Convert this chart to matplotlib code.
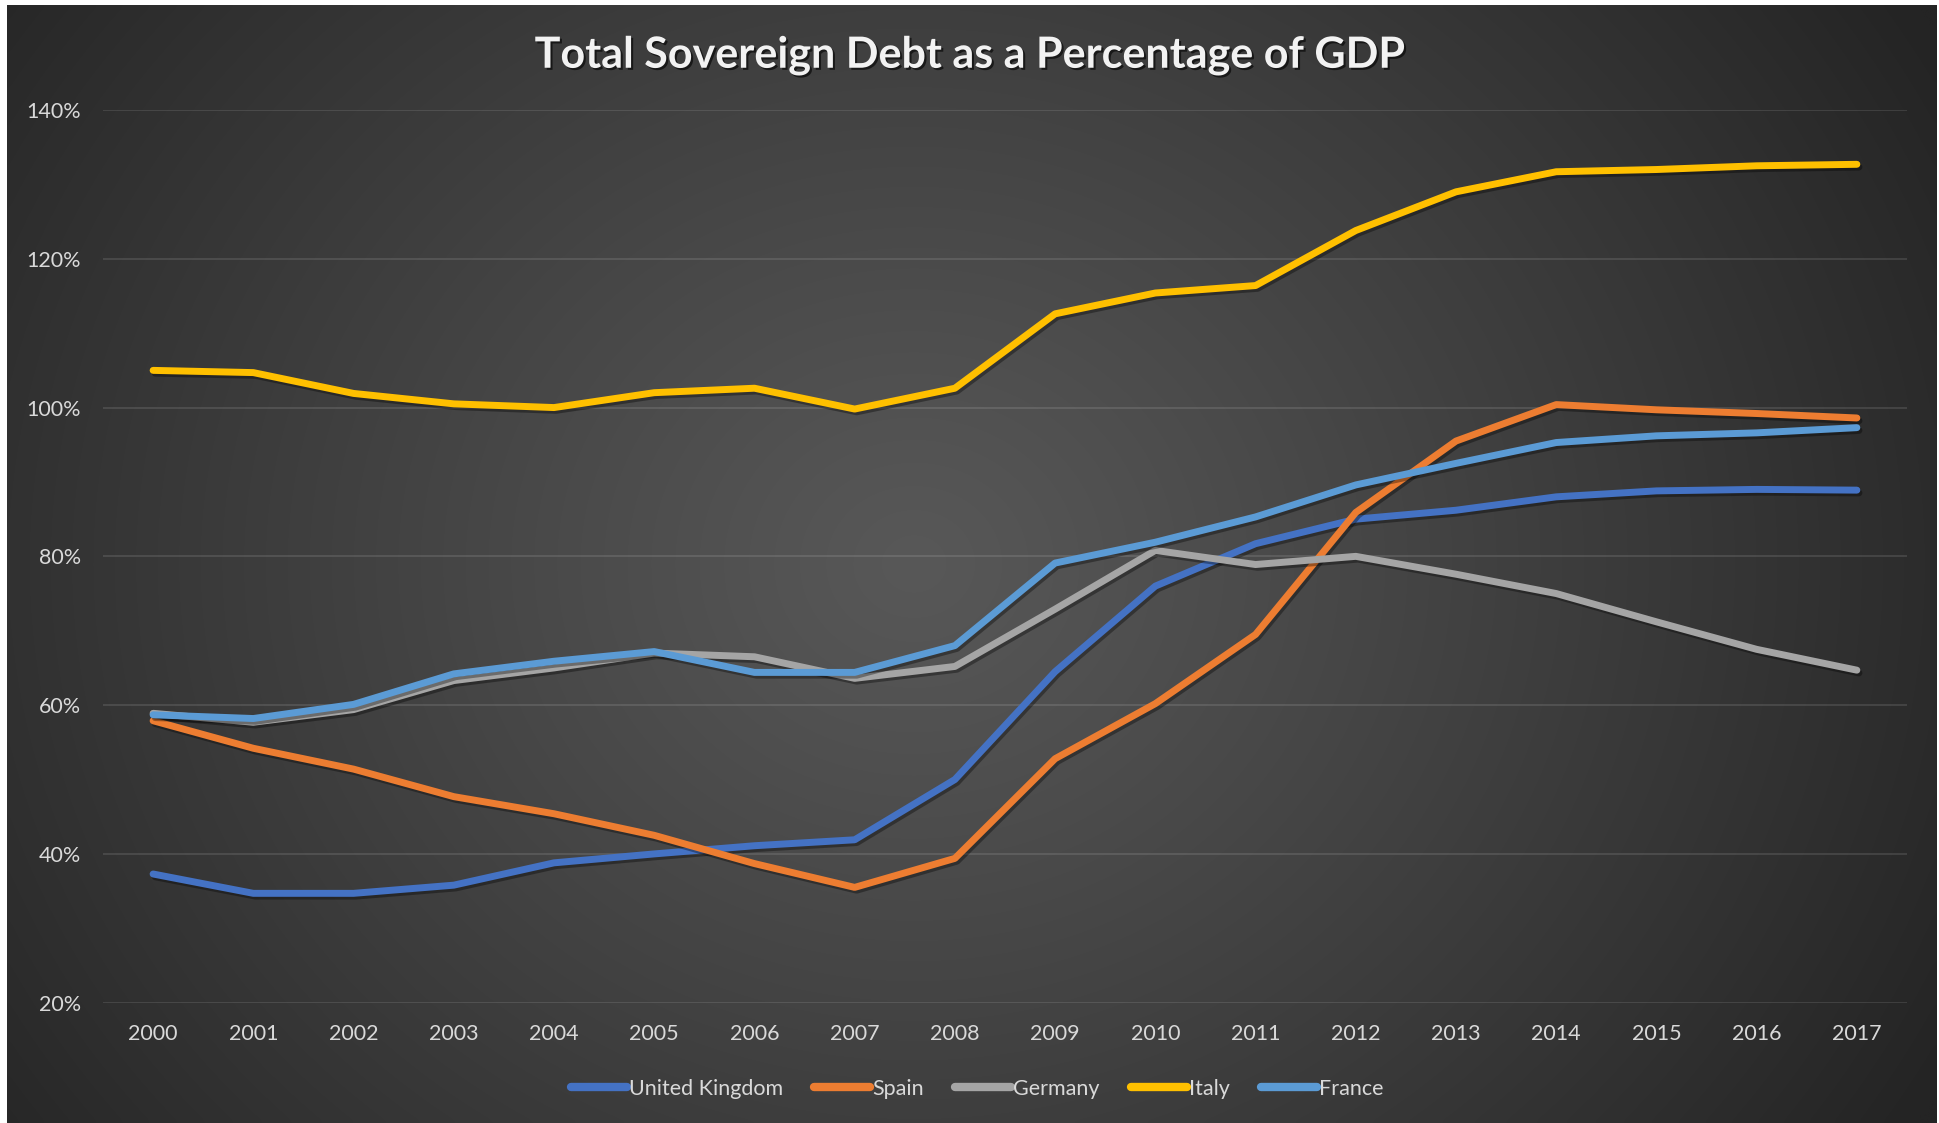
import numpy as np
import matplotlib
matplotlib.use("Agg")
import matplotlib.pyplot as plt
import matplotlib.patheffects as pe
from matplotlib.ticker import FuncFormatter

# ---- data -------------------------------------------------------------
years = list(range(2000, 2018))

uk = [37.3, 34.7, 34.7, 35.8, 38.8, 40.0, 41.1, 41.9, 50.0, 64.5,
      76.0, 81.7, 85.0, 86.2, 88.0, 88.8, 89.0, 88.9]
spain = [57.9, 54.2, 51.4, 47.7, 45.4, 42.5, 38.7, 35.5, 39.4, 52.8,
         60.2, 69.5, 85.9, 95.5, 100.4, 99.7, 99.2, 98.6]
germany = [58.9, 57.7, 59.4, 63.3, 65.0, 67.0, 66.5, 63.6, 65.2, 72.9,
           80.8, 78.9, 80.0, 77.6, 75.0, 71.2, 67.5, 64.7]
italy = [105.0, 104.7, 101.9, 100.5, 100.0, 102.0, 102.6, 99.8, 102.6, 112.6,
         115.4, 116.4, 123.8, 129.0, 131.7, 132.0, 132.5, 132.7]
france = [58.7, 58.2, 60.1, 64.2, 65.9, 67.2, 64.4, 64.4, 68.0, 79.1,
          81.9, 85.3, 89.6, 92.5, 95.3, 96.2, 96.6, 97.3]

series_names = ["United Kingdom", "Spain", "Germany", "Italy", "France"]
series_values = [uk, spain, germany, italy, france]
series_colors = ["#4472C4", "#ED7D31", "#A5A5A5", "#FFC000", "#5B9BD5"]

y_ticks = [20, 40, 60, 80, 100, 120, 140]
title = "Total Sovereign Debt as a Percentage of GDP"

# ---- figure -----------------------------------------------------------
W, H, DPI = 1939, 1123, 100
fig = plt.figure(figsize=(W / DPI, H / DPI), dpi=DPI, facecolor="white")
plt.rcParams["font.family"] = ["Lato", "DejaVu Sans"]

# dark radial-gradient backdrop
bg = fig.add_axes([7 / W, 0, (1937 - 7) / W, (H - 5) / H])
bg.set_axis_off()
nx, ny = 400, 240
gx, gy = np.meshgrid(np.linspace(0, 1, nx), np.linspace(0, 1, ny))
r = np.sqrt(((gx - 0.47) / 0.47) ** 2 + ((gy - 0.5) / 0.72) ** 2)
t = np.clip(r / 1.3, 0, 1) ** 1.1
shade = (0x58 - (0x58 - 0x24) * t) / 255.0
img = np.dstack([shade, shade, shade])
bg.imshow(img, aspect="auto", extent=[0, 1, 0, 1], interpolation="bicubic")
bg.set_xlim(0, 1)
bg.set_ylim(0, 1)

# plotting area
ax = fig.add_axes([103 / W, 1 - 1002.7 / H, (1907 - 103) / W, (1002.7 - 110) / H])
ax.set_facecolor("none")
for s in ax.spines.values():
    s.set_visible(False)

shadow = [pe.SimpleLineShadow(offset=(1.5, -2.0), shadow_color="black", alpha=0.35),
          pe.Normal()]
for name, vals, col in zip(series_names, series_values, series_colors):
    ax.plot(years, vals, color=col, lw=5.0, label=name,
            solid_capstyle="round", solid_joinstyle="round",
            path_effects=shadow)

ax.set_xlim(years[0] - 0.5, years[-1] + 0.5)
ax.set_ylim(y_ticks[0], y_ticks[-1])
ax.set_yticks(y_ticks)
ax.set_xticks(years)
ax.yaxis.set_major_formatter(FuncFormatter(lambda v, p: f"{v:.0f}%"))
ax.grid(axis="y", color="white", alpha=0.11, lw=1.5)
ax.set_axisbelow(True)
ax.tick_params(axis="both", length=0, labelsize=15.5, labelcolor="#d9d9d9")
ax.tick_params(axis="y", pad=16)
ax.tick_params(axis="x", pad=15)

# title
fig.text(0.5, 1 - 55 / H, title, ha="center", va="center",
         fontsize=31, fontweight="bold", color="#f2f2f2",
         path_effects=[pe.withSimplePatchShadow(offset=(1.5, -1.5),
                                                shadow_rgbFace="black", alpha=0.6)])

# legend
leg = fig.legend(loc="center", bbox_to_anchor=(0.504, 1 - 1089 / H), ncol=5,
                 frameon=False, fontsize=15.5, handlelength=2.6,
                 handletextpad=0.1, columnspacing=1.45, labelcolor="#d9d9d9")
for line in leg.get_lines():
    line.set_path_effects([])
    line.set_linewidth(6)

fig.savefig("out.png", dpi=DPI, facecolor=fig.get_facecolor())
